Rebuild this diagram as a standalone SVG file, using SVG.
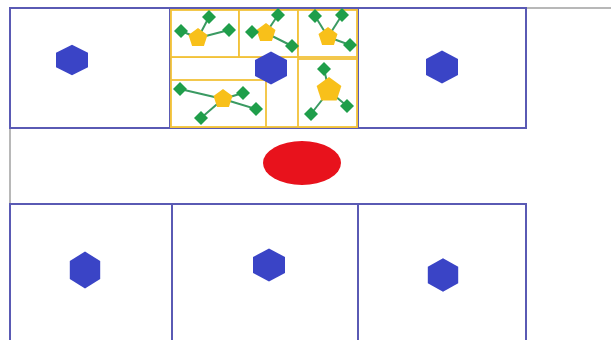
<svg xmlns="http://www.w3.org/2000/svg" xmlns:xlink="http://www.w3.org/1999/xlink" width="611" height="340" viewBox="0 0 611 340">
<style>
.cell{fill:#ffffff;stroke:#5a5ab4;stroke-width:2}
.sub{fill:#ffffff;stroke:#f2c23a;stroke-width:1.8}
.hex{fill:#3a44c6}
.pent{fill:#f8c01a}
.dia{fill:#1f9e4a}
.link{stroke:#3a9a62;stroke-width:2;fill:none}
.rule{stroke:#a0a0a0;stroke-width:1.5;fill:none}
</style>
<defs>
<polygon id="hex" points="0,-16.5 16,-8 16,8 0,16.5 -16,8 -16,-8"/>
<polygon id="pent" points="0,-10 9.5,-3.1 5.9,8.1 -5.9,8.1 -9.5,-3.1"/>
<polygon id="dia" points="0,-7 7,0 0,7 -7,0"/>
</defs>
<rect width="611" height="340" fill="#ffffff"/>
<g id="frame">
<line class="rule" x1="526" y1="8" x2="611" y2="8"/>
<line class="rule" x1="10" y1="128" x2="10" y2="204"/>
</g>
<g id="top-left">
<rect class="cell" x="10" y="8" width="160" height="120"/>
<use href="#hex" class="hex" transform="translate(72,60) scale(1,0.92)"/>
</g>
<g id="top-right">
<rect class="cell" x="358" y="8" width="168" height="120"/>
<use href="#hex" class="hex" transform="translate(442,67)"/>
</g>
<g id="top-middle">
<rect class="cell" x="170" y="8" width="188" height="120"/>
<rect class="sub" x="171" y="10" width="186" height="117"/>
<line class="sub" x1="171" y1="57" x2="298" y2="57"/>
</g>
<g id="sub-a"><rect class="sub" x="171" y="10" width="68" height="47"/></g>
<g id="sub-b"><rect class="sub" x="239" y="10" width="59" height="47"/></g>
<g id="sub-c"><rect class="sub" x="298" y="10" width="59" height="47"/></g>
<g id="sub-d"><rect class="sub" x="171" y="80" width="95" height="47"/></g>
<g id="sub-e"><rect class="sub" x="298" y="59" width="59" height="68"/></g>
<g id="connectors">
<line class="link" x1="198" y1="38" x2="181" y2="31"/>
<line class="link" x1="198" y1="38" x2="209" y2="17"/>
<line class="link" x1="198" y1="38" x2="229" y2="30"/>
<line class="link" x1="266" y1="33" x2="252" y2="32"/>
<line class="link" x1="266" y1="33" x2="278" y2="15"/>
<line class="link" x1="266" y1="33" x2="292" y2="46"/>
<line class="link" x1="328" y1="37" x2="315" y2="16"/>
<line class="link" x1="328" y1="37" x2="342" y2="15"/>
<line class="link" x1="328" y1="37" x2="350" y2="45"/>
<line class="link" x1="223" y1="99" x2="180" y2="89"/>
<line class="link" x1="223" y1="99" x2="243" y2="93"/>
<line class="link" x1="223" y1="99" x2="256" y2="109"/>
<line class="link" x1="223" y1="99" x2="201" y2="118"/>
<line class="link" x1="329" y1="91" x2="324" y2="69"/>
<line class="link" x1="329" y1="91" x2="311" y2="114"/>
<line class="link" x1="329" y1="91" x2="347" y2="106"/>
</g>
<g id="hub-middle"><use href="#hex" class="hex" transform="translate(271,68)"/></g>
<g id="cluster-a">
<use href="#pent" class="pent" transform="translate(198,38)"/>
<use href="#dia" class="dia" transform="translate(181,31)"/>
<use href="#dia" class="dia" transform="translate(209,17)"/>
<use href="#dia" class="dia" transform="translate(229,30)"/>
</g>
<g id="cluster-b">
<use href="#pent" class="pent" transform="translate(266,33)"/>
<use href="#dia" class="dia" transform="translate(252,32)"/>
<use href="#dia" class="dia" transform="translate(278,15)"/>
<use href="#dia" class="dia" transform="translate(292,46)"/>
</g>
<g id="cluster-c">
<use href="#pent" class="pent" transform="translate(328,37)"/>
<use href="#dia" class="dia" transform="translate(315,16)"/>
<use href="#dia" class="dia" transform="translate(342,15)"/>
<use href="#dia" class="dia" transform="translate(350,45)"/>
</g>
<g id="cluster-d">
<use href="#pent" class="pent" transform="translate(223,99)"/>
<use href="#dia" class="dia" transform="translate(180,89)"/>
<use href="#dia" class="dia" transform="translate(243,93)"/>
<use href="#dia" class="dia" transform="translate(256,109)"/>
<use href="#dia" class="dia" transform="translate(201,118)"/>
</g>
<g id="cluster-e">
<use href="#pent" class="pent" transform="translate(329,90) scale(1.3)"/>
<use href="#dia" class="dia" transform="translate(324,69)"/>
<use href="#dia" class="dia" transform="translate(311,114)"/>
<use href="#dia" class="dia" transform="translate(347,106)"/>
</g>
<g id="centre">
<ellipse cx="302" cy="163" rx="39" ry="22" fill="#e8121c"/>
</g>
<g id="bottom-left">
<rect class="cell" x="10" y="204" width="162" height="150"/>
<use href="#hex" class="hex" transform="translate(85,270) scale(0.95,1.12)"/>
</g>
<g id="bottom-middle">
<rect class="cell" x="172" y="204" width="186" height="150"/>
<use href="#hex" class="hex" transform="translate(269,265)"/>
</g>
<g id="bottom-right">
<rect class="cell" x="358" y="204" width="168" height="150"/>
<use href="#hex" class="hex" transform="translate(443,275) scale(0.95,1.02)"/>
</g>
</svg>
